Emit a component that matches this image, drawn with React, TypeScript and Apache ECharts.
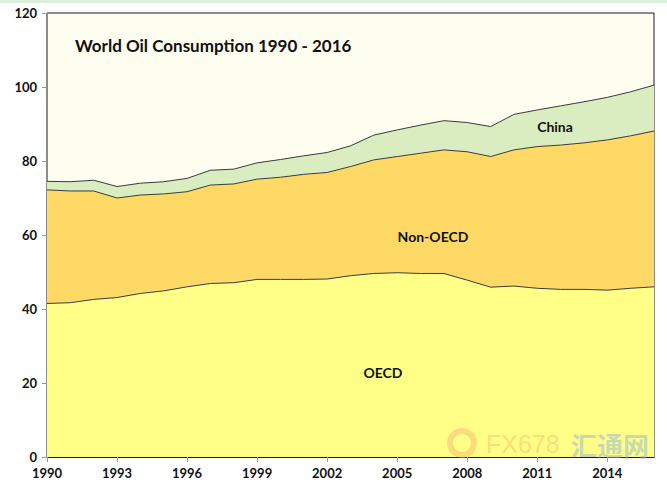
import React, { useEffect, useRef } from "react";
import * as echarts from "echarts";

const years: string[] = [
  "1990","1991","1992","1993","1994","1995","1996","1997","1998","1999",
  "2000","2001","2002","2003","2004","2005","2006","2007","2008","2009",
  "2010","2011","2012","2013","2014","2015","2016",
];
const oecd: number[] = [41.5,41.7,42.6,43.1,44.2,44.9,46.0,46.9,47.1,48.0,48.0,48.0,48.1,49.0,49.6,49.8,49.6,49.6,47.8,45.9,46.2,45.6,45.3,45.3,45.1,45.6,46.0];
const nonOecd: number[] = [30.7,30.2,29.3,26.9,26.6,26.2,25.7,26.6,26.7,27.1,27.6,28.4,28.8,29.5,30.7,31.4,32.5,33.4,34.7,35.3,36.8,38.3,39.0,39.6,40.6,41.2,42.1];
const china: number[] = [2.3,2.5,2.9,3.1,3.2,3.3,3.6,4.0,4.0,4.4,4.8,5.0,5.4,5.6,6.7,7.2,7.6,7.9,7.9,8.1,9.6,9.9,10.6,11.1,11.5,11.9,12.4];
const yTicks = { min: 0, max: 120, interval: 20 };
const titleText = "World Oil Consumption 1990 - 2016";

const FONT = "Lato, 'Open Sans', sans-serif";

export default function App() {
  const ref = useRef<HTMLDivElement>(null);
  useEffect(() => {
    if (!ref.current) return;
    const chart = echarts.init(ref.current, null, { renderer: "svg" });
    const lineStyle = { width: 1, color: "#3a3a3a" };
    const mk = (name: string, data: number[], color: string) => ({
      name,
      type: "line",
      stack: "total",
      data,
      symbol: "none",
      lineStyle,
      areaStyle: { color, opacity: 1 },
      itemStyle: { color },
    });
    const lbl = (text: string, x: number, y: number) => ({
      type: "text",
      x,
      y,
      z: 100,
      zlevel: 0,
      style: { text, fontFamily: FONT, fontSize: 14, fontWeight: "bold", fill: "#111", align: "center", verticalAlign: "middle" },
    });
    chart.setOption({
      animation: false,
      backgroundColor: "#ffffff",
      textStyle: { fontFamily: FONT },
      title: {
        text: titleText,
        left: 70,
        top: 32,
        textStyle: { fontFamily: FONT, fontSize: 17, fontWeight: "bold", color: "#111" },
      },
      grid: {
        left: 47,
        right: 13,
        top: 13,
        bottom: 30,
        show: true,
        backgroundColor: "#FEFEF0",
        borderColor: "#1a1a1a",
        borderWidth: 1,
      },
      xAxis: {
        type: "category",
        data: years,
        boundaryGap: false,
        axisLine: { lineStyle: { color: "#1a1a1a", width: 1 } },
        axisTick: { show: true, interval: 2, length: 5, lineStyle: { color: "#999" } },
        axisLabel: {
          interval: 2,
          fontFamily: FONT,
          fontWeight: "bold",
          fontSize: 13,
          color: "#111",
          margin: 9,
        },
        splitLine: { show: false },
      },
      yAxis: {
        type: "value",
        min: yTicks.min,
        max: yTicks.max,
        interval: yTicks.interval,
        axisLine: { show: true, lineStyle: { color: "#8a8a8a", width: 1 } },
        axisTick: { show: true, length: 5, lineStyle: { color: "#999" } },
        axisLabel: {
          fontFamily: FONT,
          fontWeight: "bold",
          fontSize: 13,
          color: "#111",
          margin: 10,
        },
        splitLine: { show: false },
      },
      series: [
        mk("OECD", oecd, "#FFFF88"),
        mk("Non-OECD", nonOecd, "#FFD966"),
        mk("China", china, "#D9EDC0"),
      ],
      graphic: {
        elements: [
          { type: "rect", z: 100, shape: { x: 0, y: 0, width: 667, height: 3 }, style: { fill: "#DCEFDC" }, silent: true },
          lbl("China", 555, 126),
          lbl("Non-OECD", 433, 236),
          lbl("OECD", 383, 372),
          { type: "circle", z: 100, shape: { cx: 462, cy: 443, r: 12 }, style: { fill: "none", stroke: "#F5B46A", lineWidth: 6, opacity: 0.45 } },
          { type: "text", z: 100, x: 486, y: 444, style: { text: "FX678", fontFamily: "'Liberation Sans', sans-serif", fontSize: 25, fill: "#F8B26A", opacity: 0.45, verticalAlign: "middle" } },
          { type: "text", z: 100, x: 571, y: 444, style: { text: "汇通网", fontFamily: "'Noto Sans CJK SC', sans-serif", fontSize: 26, fontWeight: "bold", fill: "#8FB4D8", opacity: 0.5, verticalAlign: "middle" } },
        ],
      },
    });
    return () => chart.dispose();
  }, []);
  return (
    <div
      ref={ref}
      style={{ position: "fixed", left: 0, top: 0, width: 667, height: 487 }}
    />
  );
}
